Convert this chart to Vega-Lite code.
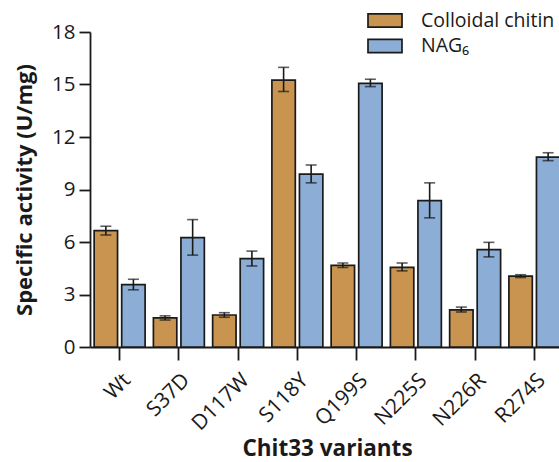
{
  "$schema": "https://vega.github.io/schema/vega-lite/v6.json",
  "autosize": "none",
  "width": 469,
  "height": 315,
  "padding": {"left": 90, "top": 32, "right": 0, "bottom": 115},
  "background": "white",
  "config": {
    "font": "Open Sans",
    "view": {"stroke": null},
    "axis": {
      "domainColor": "#1a1a1a", "domainWidth": 1.8,
      "tickColor": "#1a1a1a", "tickWidth": 1.8,
      "labelColor": "#1a1a1a", "titleColor": "#1a1a1a",
      "labelFont": "Open Sans", "titleFont": "Open Sans",
      "grid": false
    }
  },
  "data": {
    "values": [
      {"variant": "Wt", "series": "Colloidal chitin", "value": 6.65, "lo": 6.4, "hi": 6.9},
      {"variant": "Wt", "series": "NAG₆", "value": 3.57, "lo": 3.27, "hi": 3.87},
      {"variant": "S37D", "series": "Colloidal chitin", "value": 1.66, "lo": 1.54, "hi": 1.78},
      {"variant": "S37D", "series": "NAG₆", "value": 6.25, "lo": 5.25, "hi": 7.28},
      {"variant": "D117W", "series": "Colloidal chitin", "value": 1.83, "lo": 1.7, "hi": 1.96},
      {"variant": "D117W", "series": "NAG₆", "value": 5.05, "lo": 4.63, "hi": 5.48},
      {"variant": "S118Y", "series": "Colloidal chitin", "value": 15.25, "lo": 14.6, "hi": 15.98},
      {"variant": "S118Y", "series": "NAG₆", "value": 9.88, "lo": 9.38, "hi": 10.4},
      {"variant": "Q199S", "series": "Colloidal chitin", "value": 4.66, "lo": 4.54, "hi": 4.8},
      {"variant": "Q199S", "series": "NAG₆", "value": 15.07, "lo": 14.88, "hi": 15.3},
      {"variant": "N225S", "series": "Colloidal chitin", "value": 4.55, "lo": 4.35, "hi": 4.8},
      {"variant": "N225S", "series": "NAG₆", "value": 8.37, "lo": 7.38, "hi": 9.38},
      {"variant": "N226R", "series": "Colloidal chitin", "value": 2.12, "lo": 2.0, "hi": 2.28},
      {"variant": "N226R", "series": "NAG₆", "value": 5.56, "lo": 5.15, "hi": 5.98},
      {"variant": "R274S", "series": "Colloidal chitin", "value": 4.05, "lo": 3.97, "hi": 4.13},
      {"variant": "R274S", "series": "NAG₆", "value": 10.85, "lo": 10.65, "hi": 11.1}
    ]
  },
  "encoding": {
    "x": {
      "field": "variant", "type": "nominal", "sort": null,
      "scale": {"range": [0, 474], "paddingInner": 0.14, "paddingOuter": 0.07},
      "axis": {
        "title": "Chit33 variants", "titleFontSize": 22.5, "titleFontWeight": "bold",
        "titleX": 237, "titleY": 108, "titleBaseline": "alphabetic",
        "labelAngle": -45, "labelFontSize": 21, "labelPadding": 9,
        "tickSize": 13
      }
    },
    "xOffset": {"field": "series", "type": "nominal", "sort": null, "scale": {"paddingInner": 0.15, "paddingOuter": 0}},
    "y": {
      "type": "quantitative",
      "scale": {"domain": [0, 18], "nice": false},
      "axis": {
        "title": "Specific activity (U/mg)", "titleFontSize": 22, "titleFontWeight": "bold",
        "titlePadding": 15,
        "values": [0, 3, 6, 9, 12, 15, 18],
        "labelFontSize": 20.5, "labelPadding": 4, "tickSize": 11
      }
    }
  },
  "layer": [
    {
      "mark": {"type": "bar", "stroke": "#1a1a1a", "strokeWidth": 1.7},
      "encoding": {
        "y": {"field": "value", "type": "quantitative"},
        "fill": {
          "field": "series", "type": "nominal", "sort": null,
          "scale": {"domain": ["Colloidal chitin", "NAG₆"], "range": ["#C8944F", "#8BADD6"]},
          "legend": {
            "title": null, "orient": "none", "legendX": 281, "legendY": -25.5,
            "symbolType": "M-1.3,-0.5H1.3V0.5H-1.3Z", "symbolSize": 684,
            "symbolStrokeColor": "#1a1a1a", "symbolStrokeWidth": 1.7,
            "labelFontSize": 19.5, "labelColor": "#1a1a1a", "labelFont": "Open Sans",
            "labelOffset": 22, "rowPadding": 1.5, "padding": 0, "symbolOffset": 0
          }
        }
      }
    },
    {
      "mark": {"type": "rule", "color": "#1a1a1a", "strokeWidth": 1.6},
      "encoding": {
        "y": {"field": "lo", "type": "quantitative"},
        "y2": {"field": "hi"}
      }
    },
    {
      "mark": {"type": "tick", "color": "#1a1a1a", "thickness": 1.6, "size": 11, "orient": "horizontal"},
      "encoding": {"y": {"field": "lo", "type": "quantitative"}}
    },
    {
      "mark": {"type": "tick", "color": "#1a1a1a", "thickness": 1.6, "size": 11, "orient": "horizontal"},
      "encoding": {"y": {"field": "hi", "type": "quantitative"}}
    }
  ]
}
